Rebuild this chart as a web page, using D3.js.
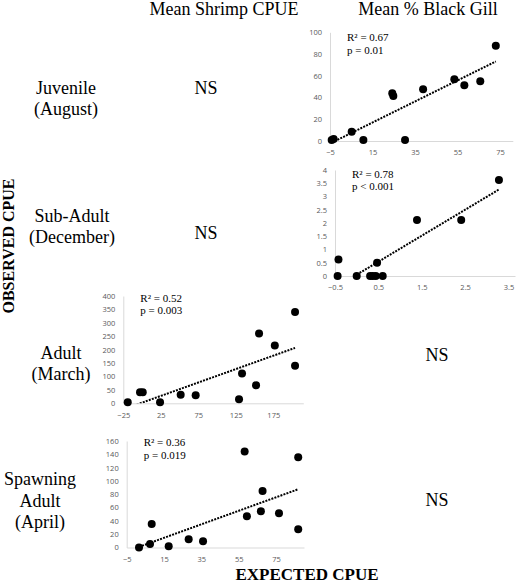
<!DOCTYPE html>
<html><head><meta charset="utf-8">
<script src="https://cdn.jsdelivr.net/npm/d3@7"></script>
<style>
body{margin:0;background:#fff;}
svg{display:block;}
</style></head>
<body>
<script>
// ---- data ----
const columnTitles = ["Mean Shrimp CPUE", "Mean % Black Gill"];
const rowLabels = [["Juvenile","(August)"],["Sub-Adult","(December)"],["Adult","(March)"],["Spawning","Adult","(April)"]];

const juvX = [-4.2,-3.3,5.2,10.7,24.3,24.8,30.3,38.8,53.5,58.2,65.7,73.0];
const juvY = [1,1.8,8.6,1,43.9,41.4,1,47.6,56.8,51.2,55,87.7];
const juvTrend = [0.968, 2.5];
const juvStats = ["R\u00B2 = 0.67","p = 0.01"];
const juvXTicks = [-5,15,35,55,75];
const juvYTicks = [0,20,40,60,80,100];

const subX = [-0.42,-0.44,0.0,0.31,0.37,0.44,0.47,0.6,1.39,2.41,3.28];
const subY = [0.62,0,0,0,0,0,0.5,0,2.11,2.11,3.62];
const subTrend = [0.98, 0.05];
const subStats = ["R\u00B2 = 0.78","p < 0.001"];
const subXTicks = [-0.5,0.5,1.5,2.5,3.5];
const subYTicks = [0,0.5,1,1.5,2,2.5,3,3.5,4];

const adultX = [-19.1,-2.7,0.9,24,51.5,71.5,129.3,133.3,152,156,177,204,204];
const adultY = [3.7,41,41,3.7,32,29.7,14.9,111.5,67,260,215.6,340,140];
const adultTrend = [1.0, 2.5];
const adultStats = ["R\u00B2 = 0.52","p = 0.003"];
const adultXTicks = [-25,25,75,125,175];
const adultYTicks = [0,50,100,150,200,250,300,350,400];

const spawnX = [1.6,7.5,8.4,17.5,28.2,35.9,58.2,59.4,66.9,67.8,76.6,86.9,86.9];
const spawnY = [0,5.3,35.3,1.8,12.3,9.3,144.4,46.8,54.4,84.8,51.3,135.4,27.3];
const spawnTrend = [1.015, -0.7];
const spawnStats = ["R\u00B2 = 0.36","p = 0.019"];
const spawnXTicks = [-5,15,35,55,75];
const spawnYTicks = [0,20,40,60,80,100,120,140,160];

const nsLabel = "NS";
const xAxisTitle = "EXPECTED CPUE";
const yAxisTitle = "OBSERVED CPUE";

// ---- drawing ----
const W = 517, H = 585;
const svg = d3.select("body").append("svg").attr("width", W).attr("height", H);
const serif = "'Liberation Serif','Times New Roman',serif";
const tickFont = "'Open Sans','Liberation Sans',sans-serif";

// column titles
svg.append("text").attr("x", 224).attr("y", 15).attr("text-anchor","middle")
  .attr("font-family", serif).attr("font-size", 18).text(columnTitles[0]);
svg.append("text").attr("x", 428).attr("y", 15).attr("text-anchor","middle")
  .attr("font-family", serif).attr("font-size", 18).text(columnTitles[1]);

// row labels
function multiLabel(lines, cx, y0, lh) {
  const t = svg.append("text").attr("text-anchor","middle")
    .attr("font-family", serif).attr("font-size", 18);
  lines.forEach((s,i)=> t.append("tspan").attr("x", cx).attr("y", y0 + i*lh).text(s));
}
multiLabel(rowLabels[0], 66, 93.5, 21);
multiLabel(rowLabels[1], 72, 221.5, 21);
multiLabel(rowLabels[2], 61, 359, 21);
multiLabel(rowLabels[3], 40, 485, 21.5);

// NS labels
[[206,93.5],[206,238.5],[437,361],[437,506]].forEach(p=>{
  svg.append("text").attr("x", p[0]).attr("y", p[1]).attr("text-anchor","middle")
    .attr("font-family", serif).attr("font-size", 18).text(nsLabel);
});

// axis titles
svg.append("text").attr("transform","translate(14,246) rotate(-90)")
  .attr("text-anchor","middle").attr("font-family", serif).attr("font-size", 16)
  .attr("font-weight","bold").text(yAxisTitle);
svg.append("text").attr("x", 307).attr("y", 580).attr("text-anchor","middle")
  .attr("font-family", serif).attr("font-size", 17)
  .attr("font-weight","bold").text(xAxisTitle);

let clipId = 0;
function panel(o) {
  const x = d3.scaleLinear().domain(o.xDom).range([o.left, o.right]);
  const y = d3.scaleLinear().domain(o.yDom).range([o.bottom, o.top]);
  const g = svg.append("g");
  const id = "clip" + (clipId++);
  svg.append("clipPath").attr("id", id).append("rect")
    .attr("x", o.left).attr("y", o.top - 6).attr("width", o.right - o.left + 4).attr("height", o.bottom - o.top + 6);

  // y axis
  const ya = g.append("g").attr("transform", `translate(${o.left},0)`)
    .call(d3.axisLeft(y).tickValues(o.yTicks).tickSize(0).tickPadding(8).tickFormat(d3.format("")));
  ya.select(".domain").attr("stroke", "#d9d9d9").attr("stroke-width", 1);
  ya.selectAll("text").attr("font-family", tickFont).attr("font-size", 7.5).attr("fill", "#595959");
  // x axis
  const xa = g.append("g").attr("transform", `translate(0,${o.bottom})`)
    .call(d3.axisBottom(x).tickValues(o.xTicks).tickSize(0).tickPadding(9).tickFormat(d3.format("")));
  xa.select(".domain").attr("stroke", "#d9d9d9").attr("stroke-width", 1);
  xa.selectAll("text").attr("font-family", tickFont).attr("font-size", 7.5).attr("fill", "#595959");

  // trend line
  const x0 = d3.min(o.xs), x1 = d3.max(o.xs);
  const line = d3.line().x(d=>x(d[0])).y(d=>y(d[1]));
  g.append("path").attr("clip-path", `url(#${id})`)
    .attr("d", line([[x0, o.trend[0]*x0 + o.trend[1]], [x1, o.trend[0]*x1 + o.trend[1]]]))
    .attr("stroke", "#000").attr("stroke-width", 2).attr("stroke-dasharray", "2,1.2").attr("fill","none");

  // points
  g.selectAll("circle.pt").data(o.xs.map((v,i)=>[v, o.ys[i]])).enter().append("circle")
    .attr("cx", d=>x(d[0])).attr("cy", d=>y(d[1])).attr("r", 4).attr("fill", "#000");

  // stats
  const st = g.append("text").attr("font-family", serif).attr("font-size", 11).attr("fill","#000");
  o.stats.forEach((s,i)=> st.append("tspan").attr("x", o.left + 17).attr("y", o.statsY + i*12.5).text(s));
}

panel({xs: juvX, ys: juvY, trend: juvTrend, stats: juvStats, xTicks: juvXTicks, yTicks: juvYTicks,
  xDom: [-5, 81], yDom: [0, 100], left: 330, right: 512.8, top: 32.3, bottom: 141, statsY: 41});
panel({xs: subX, ys: subY, trend: subTrend, stats: subStats, xTicks: subXTicks, yTicks: subYTicks,
  xDom: [-0.5, 3.65], yDom: [0, 4], left: 335, right: 515, top: 170, bottom: 276, statsY: 177.5});
panel({xs: adultX, ys: adultY, trend: adultTrend, stats: adultStats, xTicks: adultXTicks, yTicks: adultYTicks,
  xDom: [-25, 215], yDom: [0, 400], left: 123.3, right: 303.3, top: 296, bottom: 403.3, statsY: 301.7});
panel({xs: spawnX, ys: spawnY, trend: spawnTrend, stats: spawnStats, xTicks: spawnXTicks, yTicks: spawnYTicks,
  xDom: [-5, 90], yDom: [0, 160], left: 126.7, right: 304, top: 441, bottom: 547.5, statsY: 446});
</script>
</body></html>
